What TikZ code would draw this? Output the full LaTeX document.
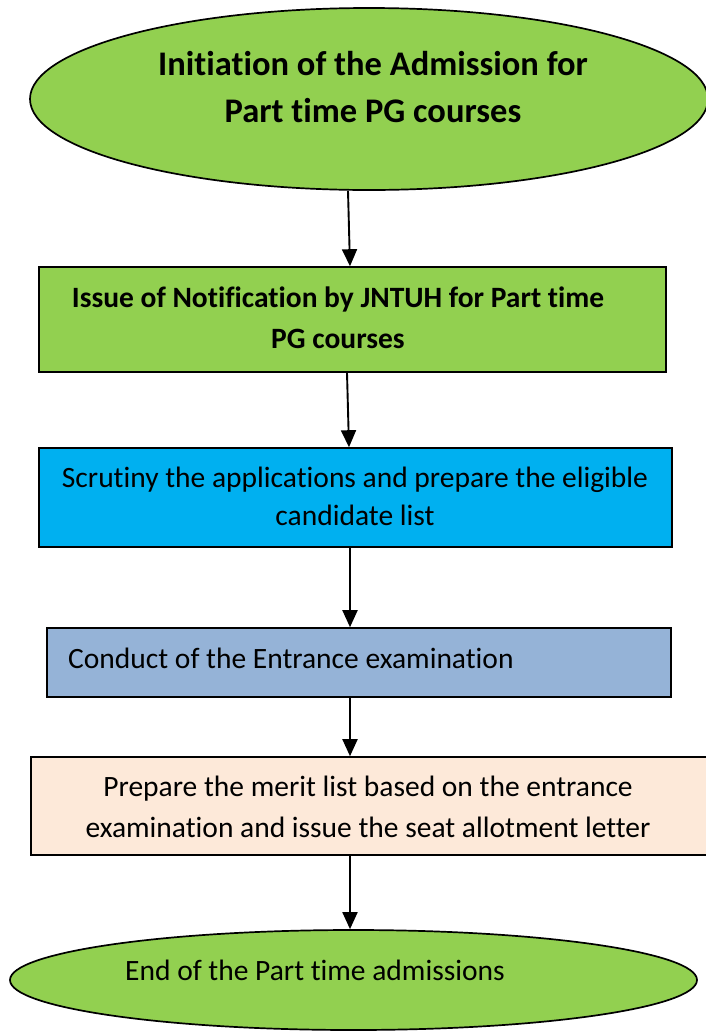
\documentclass[tikz,border=0pt]{standalone}
\usepackage{fontspec}
\setmainfont{Carlito}[Ligatures={NoCommon}]
\usetikzlibrary{shapes.geometric,arrows.meta}
\definecolor{cgreen}{HTML}{92D050}
\definecolor{cblue}{HTML}{00B0F0}
\definecolor{csteel}{HTML}{95B3D7}
\definecolor{cpeach}{HTML}{FDE9D9}
\tikzset{
  oval/.style={ellipse, draw=black, line width=1.7pt, fill=cgreen, inner sep=0pt},
  procbox/.style={rectangle, draw=black, line width=1.6pt, inner sep=0pt},
  flow/.style={line width=1.9pt, -{Triangle[length=17pt,width=15pt]}},
  txt/.style={align=center, inner sep=0pt, font=\fontsize{29.5}{41}\selectfont}
}
\begin{document}
\begin{tikzpicture}[x=1pt,y=-1pt]
\useasboundingbox (0,0) rectangle (705,1034);
\fill[white] (0,0) rectangle (705,1034);
% top ellipse
\node[oval, minimum width=678pt, minimum height=182pt] (start) at (369,99) {};
\node[txt, font=\bfseries\fontsize{34.5}{47}\selectfont] (starttxt) at (373,87) {Initiation of the Admission for\\Part time PG courses};
% box 1
\node[procbox, fill=cgreen, minimum width=627pt, minimum height=105pt] (b1) at (352.5,319.5) {};
\node[txt, font=\bfseries\fontsize{29.5}{41}\selectfont] (b1txt) at (338,318) {Issue of Notification by JNTUH for Part time\\PG courses};
% box 2
\node[procbox, fill=cblue, minimum width=633pt, minimum height=99pt] (b2) at (355.5,497.5) {};
\node[txt, font=\fontsize{29.5}{38}\selectfont] (b2txt) at (355,496) {Scrutiny the applications and prepare the eligible\\candidate list};
% box 3
\node[procbox, fill=csteel, minimum width=624pt, minimum height=69pt] (b3) at (359,662.5) {};
\node[txt, anchor=west] (b3txt) at (68,658) {Conduct of the Entrance examination};
% box 4
\node[procbox, fill=cpeach, minimum width=690pt, minimum height=98pt] (b4) at (376,806) {};
\node[txt] (b4txt) at (368,807) {Prepare the merit list based on the entrance\\examination and issue the seat allotment letter};
% bottom ellipse
\node[oval, minimum width=687pt, minimum height=100pt] (end) at (353.5,980) {};
\node[txt] (endtxt) at (315,970) {End of the Part time admissions};
% connectors
\draw[flow] (start.south -| 348,0) -- (b1.north -| 350,0);
\draw[flow] (b1.south -| 347,0) -- (b2.north -| 349,0);
\draw[flow] (b2.south -| 350,0) -- (b3.north -| 350,0);
\draw[flow] (b3.south -| 350,0) -- (b4.north -| 350,0);
\draw[flow] (b4.south -| 350,0) -- (end.north -| 350,0);
\end{tikzpicture}
\end{document}
